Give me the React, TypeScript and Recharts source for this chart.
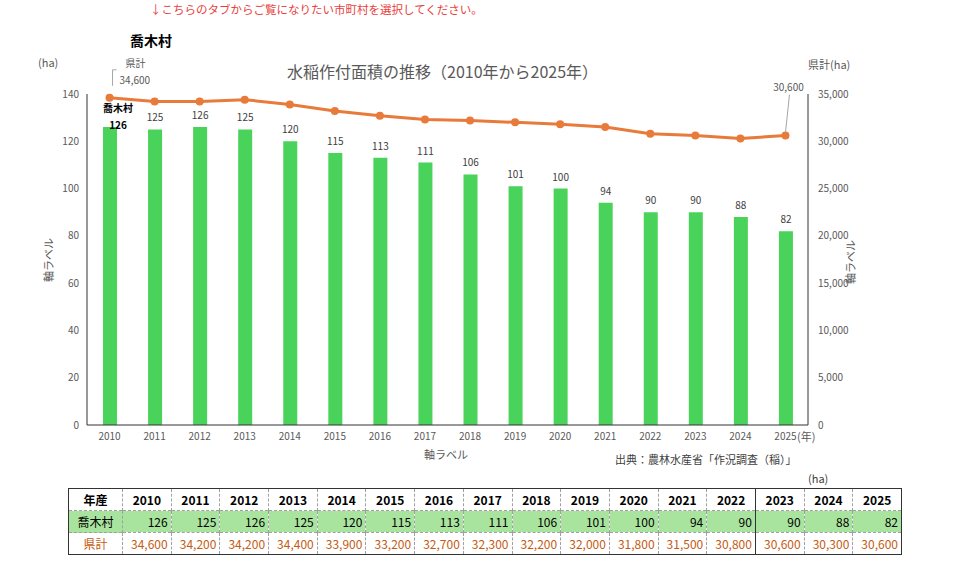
import React from 'react';
import { ComposedChart, Bar, Line, XAxis, YAxis, LabelList } from 'recharts';

const years = ['2010', '2011', '2012', '2013', '2014', '2015', '2016', '2017', '2018', '2019', '2020', '2021', '2022', '2023', '2024', '2025'];
const villageArea = [126, 125, 126, 125, 120, 115, 113, 111, 106, 101, 100, 94, 90, 90, 88, 82];
const prefArea = [34600, 34200, 34200, 34400, 33900, 33200, 32700, 32300, 32200, 32000, 31800, 31500, 30800, 30600, 30300, 30600];
const leftTicks = [0, 20, 40, 60, 80, 100, 120, 140];
const rightTicks = [0, 5000, 10000, 15000, 20000, 25000, 30000, 35000];

const FONT = '"Noto Sans CJK JP", "Noto Sans", sans-serif';
const GREEN = '#4AD35A';
const ORANGE = '#E87A3A';
const AXIS = '#333333';
const GREY = '#595959';

const chartData = years.map((year, i) => ({ year, village: villageArea[i], pref: prefArea[i] }));

const fmt = (v: number) => v.toLocaleString('en-US');

const BarValueLabel = (props: any) => {
  const { x, y, width, value, index } = props;
  const cx = Number(x) + Number(width) / 2;
  const top = Number(y);
  if (index === 0) {
    return (
      <g>
        <text x={cx + 8} y={top - 15} textAnchor="middle" fontSize={10} fontWeight="bold" fill="#000" fontFamily={FONT}>喬木村</text>
        <text x={cx + 8} y={top + 2} textAnchor="middle" fontSize={10} fontWeight="bold" fill="#000" fontFamily={FONT}>{value}</text>
      </g>
    );
  }
  return (
    <text x={cx} y={top - 8} textAnchor="middle" fontSize={10} fill="#404040" fontFamily={FONT}>{value}</text>
  );
};

const LineValueLabel = (props: any) => {
  const { x, y, value, index } = props;
  const px = Number(x);
  const py = Number(y);
  if (index === 0) {
    return (
      <g>
        <path d={`M${px + 3},${py - 12} V${py - 28} H${px + 7}`} stroke="#A6A6A6" strokeWidth={1} fill="none" />
        <text x={px + 16} y={py - 31} fontSize={10} fill={GREY} fontFamily={FONT}>県計</text>
        <text x={px + 10} y={py - 14} fontSize={10} fill={GREY} fontFamily={FONT}>{fmt(value)}</text>
      </g>
    );
  }
  if (index === years.length - 1) {
    return (
      <g>
        <line x1={px + 4} y1={py - 41} x2={px} y2={py - 3} stroke="#A6A6A6" strokeWidth={1} />
        <text x={px + 3} y={py - 45} textAnchor="middle" fontSize={10} fill={GREY} fontFamily={FONT}>{fmt(value)}</text>
      </g>
    );
  }
  return null;
};

const abs = (left: number, top: number, extra: React.CSSProperties = {}): React.CSSProperties => ({
  position: 'absolute',
  left,
  top,
  whiteSpace: 'nowrap',
  lineHeight: 1,
  ...extra,
});

const cellBorder = '1px dashed #A0A0A0';

const DataTable = () => {
  const cell = (i: number): React.CSSProperties => ({
    borderLeft: i === 13 ? '1px solid #333' : cellBorder,
    padding: '0 3px',
    height: 19,
    overflow: 'hidden',
  });
  return (
    <table
      style={{
        position: 'absolute',
        left: 68,
        top: 488,
        width: 834,
        borderCollapse: 'collapse',
        tableLayout: 'fixed',
        border: '1px solid #333',
        fontFamily: FONT,
        fontSize: 12,
        lineHeight: '18px',
      }}
    >
      <colgroup>
        <col style={{ width: 54 }} />
        {years.map((y) => (
          <col key={y} />
        ))}
      </colgroup>
      <tbody>
        <tr style={{ borderBottom: cellBorder }}>
          <td style={{ textAlign: 'center', fontWeight: 'bold', height: 19 }}>年産</td>
          {years.map((y, i) => (
            <td key={y} style={{ ...cell(i), textAlign: 'center', fontWeight: 'bold' }}>{y}</td>
          ))}
        </tr>
        <tr style={{ background: '#A9E49E', borderBottom: cellBorder }}>
          <td style={{ textAlign: 'center', height: 19 }}>喬木村</td>
          {villageArea.map((v, i) => (
            <td key={i} style={{ ...cell(i), textAlign: 'right' }}>{v}</td>
          ))}
        </tr>
        <tr style={{ color: '#C55A11' }}>
          <td style={{ textAlign: 'center', height: 19 }}>県計</td>
          {prefArea.map((v, i) => (
            <td key={i} style={{ ...cell(i), textAlign: 'right' }}>{fmt(v)}</td>
          ))}
        </tr>
      </tbody>
    </table>
  );
};

export default function App() {
  return (
    <div style={{ position: 'absolute', left: 0, top: 0, width: 960, height: 568, background: '#fff', fontFamily: FONT }}>
      <div style={abs(150, 4, { fontSize: 11.5, color: '#E8413C' })}>↓こちらのタブからご覧になりたい市町村を選択してください。</div>
      <div style={abs(130, 33, { fontSize: 14, fontWeight: 'bold', color: '#000' })}>喬木村</div>

      <ComposedChart width={960} height={480} data={chartData} margin={{ top: 94, right: 102, bottom: 25, left: 47 }}>
        <XAxis
          dataKey="year"
          tickLine={false}
          tickSize={0}
          tickMargin={8}
          axisLine={{ stroke: AXIS }}
          tick={{ fontSize: 10, fill: GREY, fontFamily: FONT }}
          interval={0}
          height={30}
        />
        <YAxis
          yAxisId="left"
          domain={[0, 140]}
          ticks={leftTicks}
          width={40}
          tickLine={false}
          tickSize={0}
          tickMargin={8}
          axisLine={{ stroke: AXIS }}
          tick={{ fontSize: 10, fill: GREY, fontFamily: FONT }}
        />
        <YAxis
          yAxisId="right"
          orientation="right"
          domain={[0, 35000]}
          ticks={rightTicks}
          width={50}
          tickLine={false}
          tickSize={0}
          tickMargin={10}
          axisLine={{ stroke: AXIS }}
          tick={{ fontSize: 10, fill: GREY, fontFamily: FONT, textAnchor: 'start' }}
          tickFormatter={fmt}
        />
        <Bar yAxisId="left" dataKey="village" fill={GREEN} barSize={14} isAnimationActive={false}>
          <LabelList dataKey="village" content={BarValueLabel} />
        </Bar>
        <Line
          yAxisId="right"
          dataKey="pref"
          stroke={ORANGE}
          strokeWidth={3}
          dot={{ r: 4, fill: ORANGE, stroke: ORANGE, strokeWidth: 0 }}
          isAnimationActive={false}
        >
          <LabelList dataKey="pref" content={LineValueLabel} />
        </Line>
      </ComposedChart>

      <div style={abs(287, 63, { fontSize: 16, color: GREY })}>水稲作付面積の推移（2010年から2025年）</div>
      <div style={abs(38, 57, { fontSize: 11, color: GREY })}>(ha)</div>
      <div style={abs(808, 59, { fontSize: 11, color: GREY })}>県計(ha)</div>
      <div style={abs(48, 260, { fontSize: 11, color: GREY, transform: 'translate(-50%, -50%) rotate(-90deg)' })}>軸ラベル</div>
      <div style={abs(850, 262, { fontSize: 11, color: GREY, transform: 'translate(-50%, -50%) rotate(-90deg)' })}>軸ラベル</div>
      <div style={abs(424, 449, { fontSize: 11, color: GREY })}>軸ラベル</div>
      <div style={abs(797, 431, { fontSize: 11, color: GREY })}>(年)</div>
      <div style={abs(615, 454, { fontSize: 11, color: '#404040' })}>出典：農林水産省「作況調査（稲）」</div>
      <div style={abs(808, 473, { fontSize: 11, color: '#404040' })}>(ha)</div>

      <DataTable />
    </div>
  );
}
